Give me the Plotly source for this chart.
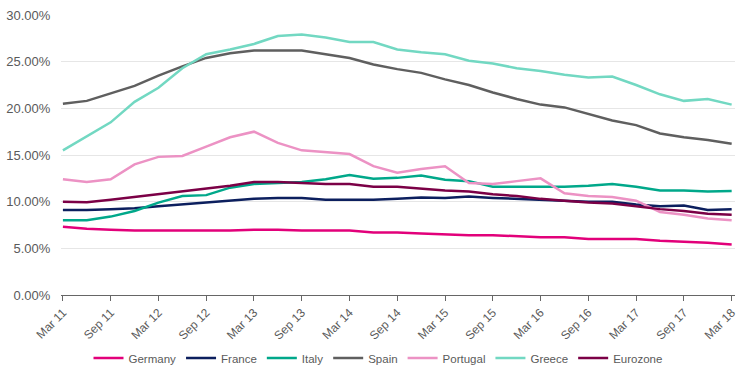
import plotly.graph_objects as go

quarters = ["Mar 11","Jun 11","Sep 11","Dec 11","Mar 12","Jun 12","Sep 12","Dec 12",
            "Mar 13","Jun 13","Sep 13","Dec 13","Mar 14","Jun 14","Sep 14","Dec 14",
            "Mar 15","Jun 15","Sep 15","Dec 15","Mar 16","Jun 16","Sep 16","Dec 16",
            "Mar 17","Jun 17","Sep 17","Dec 17","Mar 18"]

y_ticks = [0, 5, 10, 15, 20, 25, 30]
y_labels = ["0.00%", "5.00%", "10.00%", "15.00%", "20.00%", "25.00%", "30.00%"]

germany  = [7.3,7.1,7.0,6.9,6.9,6.9,6.9,6.9,7.0,7.0,6.9,6.9,6.9,6.7,6.7,6.6,6.5,6.4,6.4,6.3,6.2,6.2,6.0,6.0,6.0,5.8,5.7,5.6,5.4]
france   = [9.1,9.1,9.2,9.3,9.5,9.7,9.85,10.1,10.3,10.4,10.4,10.2,10.2,10.2,10.3,10.45,10.4,10.55,10.4,10.3,10.2,10.1,10.0,10.0,9.7,9.5,9.6,9.1,9.2]
italy    = [8.0,8.0,8.4,9.0,9.9,10.6,10.7,11.5,11.9,12.0,12.1,12.4,12.85,12.45,12.55,12.8,12.35,12.2,11.6,11.6,11.6,11.6,11.7,11.9,11.6,11.2,11.2,11.1,11.15]
spain    = [20.5,20.8,21.6,22.4,23.5,24.5,25.4,25.9,26.2,26.2,26.2,25.8,25.4,24.7,24.2,23.8,23.1,22.5,21.7,21.0,20.4,20.1,19.4,18.7,18.2,17.3,16.9,16.6,16.2]
portugal = [12.4,12.1,12.4,14.0,14.8,14.9,15.9,16.9,17.5,16.3,15.5,15.3,15.1,13.8,13.1,13.5,13.8,12.0,11.9,12.2,12.5,10.9,10.6,10.5,10.1,8.9,8.6,8.2,8.0]
greece   = [15.5,17.0,18.5,20.7,22.2,24.3,25.8,26.3,26.9,27.75,27.9,27.6,27.1,27.1,26.3,26.0,25.8,25.1,24.8,24.3,24.0,23.6,23.3,23.4,22.5,21.5,20.8,21.0,20.4]
eurozone = [10.0,9.95,10.2,10.5,10.8,11.1,11.4,11.7,12.1,12.1,12.0,11.9,11.9,11.6,11.6,11.4,11.2,11.1,10.8,10.6,10.3,10.1,9.9,9.8,9.5,9.2,9.0,8.7,8.6]

series = [
    ("Germany", germany, "#e2007a"),
    ("France", france, "#0c1f5e"),
    ("Italy", italy, "#00a88a"),
    ("Spain", spain, "#5f5f5f"),
    ("Portugal", portugal, "#ec92c4"),
    ("Greece", greece, "#72d8c2"),
    ("Eurozone", eurozone, "#7b0046"),
]

idx = list(range(len(quarters)))
fig = go.Figure()
for name, vals, col in series:
    fig.add_trace(go.Scatter(x=idx, y=vals, mode="lines", name=name,
                             line=dict(color=col, width=2.5)))

tickvals = idx[::2]
ticktext = quarters[::2]

fig.update_layout(
    width=756, height=379,
    margin=dict(l=61, r=21, t=15, b=84, autoexpand=False),
    paper_bgcolor="white", plot_bgcolor="white",
    font=dict(family="Liberation Sans, Arial, sans-serif", size=12, color="#5a5a5a"),
    xaxis=dict(range=[-0.08, 28.14], tickvals=tickvals, ticktext=ticktext,
               tickangle=-45, showgrid=False, zeroline=False, automargin=False,
               showline=True, linecolor="#666666", linewidth=1,
               ticks="outside", ticklen=5, tickcolor="#666666",
               tickfont=dict(size=12, color="#5a5a5a")),
    yaxis=dict(range=[0, 30], tickvals=y_ticks, ticktext=y_labels, automargin=False,
               showgrid=True, gridcolor="#e6e6e6", gridwidth=1,
               zeroline=False, showline=False, ticks="outside", ticklen=7,
               tickcolor="rgba(0,0,0,0)",
               tickfont=dict(size=13, color="#5a5a5a")),
    legend=dict(orientation="h", xref="container", x=0.5, xanchor="center",
                y=-0.225, yanchor="middle",
                font=dict(size=11.5, color="#5a5a5a"), itemwidth=30,
                tracegroupgap=0, bgcolor="rgba(0,0,0,0)"),
    showlegend=True,
)

fig.write_html("out.html", config={"displayModeBar": False},
               post_script="document.body.style.margin='0';document.body.style.overflow='hidden';")
